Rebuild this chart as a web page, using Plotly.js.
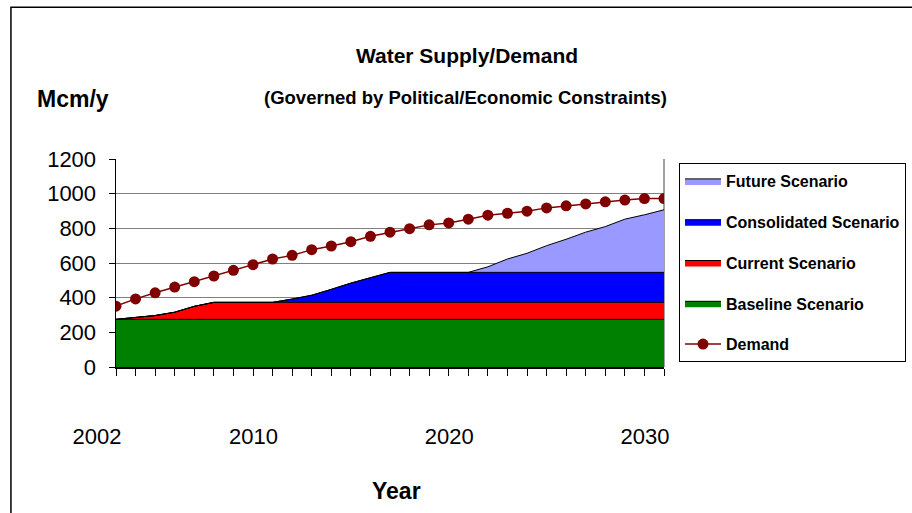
<!DOCTYPE html>
<html>
<head>
<meta charset="utf-8">
<script src="https://cdn.plot.ly/plotly-3.0.1.min.js"></script>
<style>html,body{margin:0;padding:0;background:#fff;}#chart{width:912px;height:513px;}</style>
</head>
<body>
<div id="chart"></div>
<script>
var years = [2002,2003,2004,2005,2006,2007,2008,2009,2010,2011,2012,2013,2014,2015,2016,2017,2018,2019,2020,2021,2022,2023,2024,2025,2026,2027,2028,2029,2030];
var tickLabels = ['2002','','','','','','','','2010','','','','','','','','','','2020','','','','','','','','','','2030'];
// cumulative supply totals (Mcm/y)
var baseline = [275,275,275,275,275,275,275,275,275,275,275,275,275,275,275,275,275,275,275,275,275,275,275,275,275,275,275,275,275];
var current = [275,284,297,316,350,373,373,373,373,373,373,373,373,373,373,373,373,373,373,373,373,373,373,373,373,373,373,373,373];
var consolidated = [275,284,297,316,350,373,373,373,373,392,414,448,484,515,546,546,546,546,546,546,546,546,546,546,546,546,546,546,546];
var future = [275,284,297,316,350,373,373,373,373,392,414,448,484,515,546,546,546,546,546,578,623,656,700,737,778,810,853,878,907];
var demand = [351,393,428,461,492,525,558,590,623,644,677,698,723,754,778,798,820,831,853,876,887,899,918,930,941,953,963,972,972];

var W = 912, H = 513;
var L = 116, R = 663.7, T = 159.3, B = 366.7;
var pw = R - L, ph = B - T;
function px(x){ return (x - L) / pw; }
function py(y){ return (B - y) / ph; }

var font = 'Arial, "Liberation Sans", sans-serif';
var outline = {color:'#000000', width:1};

var traces = [
  {x: years, y: baseline, name:'Baseline Scenario', type:'scatter', mode:'lines', fill:'tozeroy', fillcolor:'#008000', line:outline, legendgroup:'g4', legendrank:4},
  {x: years, y: current, name:'Current Scenario', type:'scatter', mode:'lines', fill:'tonexty', fillcolor:'#FF0000', line:outline, legendgroup:'g3', legendrank:3},
  {x: years, y: consolidated, name:'Consolidated Scenario', type:'scatter', mode:'lines', fill:'tonexty', fillcolor:'#0000FF', line:outline, legendgroup:'g2', legendrank:2},
  {x: years, y: future, name:'Future Scenario', type:'scatter', mode:'lines', fill:'tonexty', fillcolor:'#9999FF', line:outline, legendgroup:'g1', legendrank:1},
  {x: years, y: demand, name:'Demand', type:'scatter', mode:'lines+markers', line:{color:'#800000', width:1.5}, marker:{color:'#800000', size:11, symbol:'circle'}, legendgroup:'g5', legendrank:5}
];

var layout = {
  width: W, height: H,
  margin: {l: L, r: W - R, t: T, b: H - B, pad: 0, autoexpand: false},
  paper_bgcolor: '#ffffff', plot_bgcolor: '#ffffff',
  font: {family: font, color: '#000000'},
  showlegend: true,
  title: {text: '<b>Water Supply/Demand</b>', font: {family: font, size: 21, color:'#000'}, xref: 'container', yref: 'container', x: 467/W, y: 1 - 56/H, xanchor: 'center', yanchor: 'middle'},
  xaxis: {
    type: 'linear', range: [2002, 2030], fixedrange: true,
    tickmode: 'array', tickvals: years, ticktext: tickLabels,
    ticks: 'outside', ticklen: 7, tickwidth: 1, tickcolor: '#000',
    ticklabelshift: -19, ticklabelstandoff: 42,
    tickfont: {family: font, size: 22, color: '#000'},
    showline: true, linecolor: '#000', linewidth: 1.5,
    showgrid: false, zeroline: false
  },
  yaxis: {
    range: [0, 1200], dtick: 200, tick0: 0, fixedrange: true,
    ticks: 'outside', ticklen: 6, tickwidth: 1, tickcolor: '#000',
    ticklabelstandoff: 8,
    tickfont: {family: font, size: 22, color: '#000'},
    showline: true, linecolor: '#000', linewidth: 1.5,
    showgrid: true, gridcolor: '#808080', gridwidth: 1,
    zeroline: false
  },
  legend: {
    xref: 'container', yref: 'container',
    x: 679 / W, y: 1 - 163 / H, xanchor: 'left', yanchor: 'top',
    bgcolor: '#ffffff', bordercolor: '#000000', borderwidth: 1,
    font: {family: font, size: 16, weight: 'bold', color: '#000'},
    traceorder: 'grouped', tracegroupgap: 17, itemwidth: 36
  },
  shapes: [
    {type:'line', xref:'paper', yref:'paper', x0:1, x1:1, y0:0, y1:1, line:{color:'#808080', width:1.5}, layer:'below'},
    {type:'rect', xref:'paper', yref:'paper', x0:px(11), x1:px(930), y0:py(8), y1:py(530), line:{color:'#000', width:1.5}, layer:'below'}
  ],
  annotations: [
    {text:'<b>(Governed by Political/Economic Constraints)</b>', xref:'paper', yref:'paper', x:px(465), y:py(98), xanchor:'center', yanchor:'middle', showarrow:false, font:{family:font, size:18.5, color:'#000'}},
    {text:'<b>Mcm/y</b>', xref:'paper', yref:'paper', x:px(73), y:py(99), xanchor:'center', yanchor:'middle', showarrow:false, font:{family:font, size:23, color:'#000'}},
    {text:'<b>Year</b>', xref:'paper', yref:'paper', x:px(396), y:py(490), xanchor:'center', yanchor:'middle', showarrow:false, font:{family:font, size:23, color:'#000'}}
  ]
};

Plotly.newPlot('chart', traces, layout, {displayModeBar: false, staticPlot: true});
</script>
</body>
</html>
